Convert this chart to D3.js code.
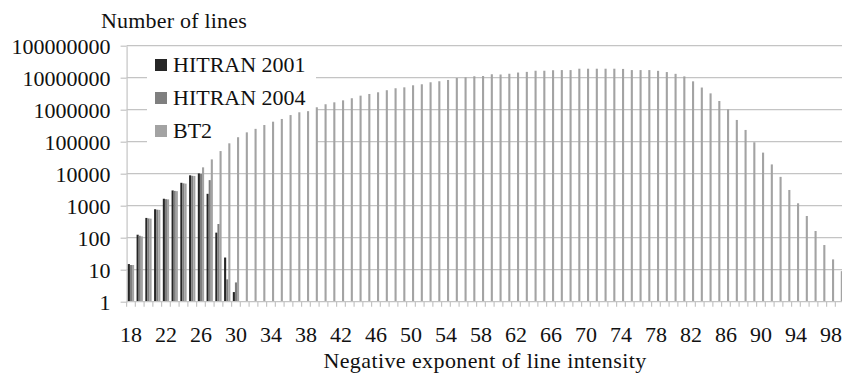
<!DOCTYPE html>
<html>
<head>
<meta charset="utf-8">
<script src="https://cdn.jsdelivr.net/npm/d3@7"></script>
<style>
  html, body { margin: 0; padding: 0; background: #fff; }
  svg text { font-family: "Liberation Serif", "Times New Roman", "DejaVu Serif", serif; }
</style>
</head>
<body>
<svg id="chart" width="842" height="376"></svg>
<script>
// Negative exponent of line intensity (categories)
const exponents = [18,19,20,21,22,23,24,25,26,27,28,29,30,31,32,33,34,35,36,37,38,39,40,41,42,43,44,45,46,47,48,49,50,51,52,53,54,55,56,57,58,59,60,61,62,63,64,65,66,67,68,69,70,71,72,73,74,75,76,77,78,79,80,81,82,83,84,85,86,87,88,89,90,91,92,93,94,95,96,97,98,99];

// Number of lines per intensity decade
const hitran2001 = [15,124,415,775,1650,3000,5200,8900,10200,2350,144,24,2];
const hitran2004 = [14,115,400,750,1600,2900,5000,8600,9800,6300,268,5,4];
const bt2 = [14,110,395,740,1580,2850,4900,8500,15800,28000,51000,89000,138000,196000,252000,332000,422000,513000,680000,830000,900000,1190000,1480000,1700000,1960000,2280000,2750000,3100000,3500000,4060000,4680000,5000000,5790000,6230000,7200000,7750000,8500000,9800000,10300000,11100000,11300000,12800000,12600000,13300000,14500000,15200000,16500000,16500000,17100000,17300000,17300000,19100000,19100000,19100000,19100000,19100000,18800000,17300000,17300000,17300000,16400000,15000000,13200000,11000000,7700000,4930000,3240000,1870000,1030000,478000,233000,96000,45600,19500,7970,3100,1190,477,162,59,21,9];

const seriesNames = ["HITRAN 2001", "HITRAN 2004", "BT2"];
const seriesValues = [hitran2001, hitran2004, bt2];
const seriesColors = ["#262626", "#7f7f7f", "#a3a3a3"];

const yTicks = [1,10,100,1000,10000,100000,1000000,10000000,100000000];
const xTickLabels = [18,22,26,30,34,38,42,46,50,54,58,62,66,70,74,78,82,86,90,94,98];

const serif = "'Liberation Serif', 'Times New Roman', 'DejaVu Serif', serif";
const svg = d3.select("#chart").attr("font-family", serif);
const plotLeft = 126.6, step = 8.75, plotTop = 45.7, plotBottom = 301.7;
const plotRight = plotLeft + exponents.length * step;

const x = d3.scaleBand().domain(exponents).range([plotLeft, plotRight])
  .paddingInner(0.28).paddingOuter(0.14);
const xs = d3.scaleBand().domain(seriesNames).range([0, x.bandwidth()]);
const y = d3.scaleLog().domain([1, 1e8]).range([plotBottom, plotTop]);

const gridColor = "#c4c4c4";

// horizontal gridlines
svg.append("g").selectAll("line").data(yTicks.slice(1)).join("line")
  .attr("x1", plotLeft).attr("x2", 842)
  .attr("y1", d => y(d)).attr("y2", d => y(d))
  .attr("stroke", gridColor).attr("stroke-width", 1.2);

// legend backdrop hides the gridlines behind the key
svg.append("rect").attr("x", 147).attr("y", 52).attr("width", 169).attr("height", 95)
  .attr("fill", "#fff");

// y axis
const yAxis = svg.append("g").attr("transform", `translate(${plotLeft},0)`)
  .call(d3.axisLeft(y).tickValues(yTicks).tickFormat(d3.format("d")).tickSize(6).tickPadding(10).tickSizeOuter(0));
yAxis.attr("font-family", serif).attr("font-size", 22);
yAxis.selectAll("path, line").attr("stroke", gridColor).attr("stroke-width", 1.2);
yAxis.selectAll("text").attr("fill", "#111").attr("dy", "0.34em");

// bars
seriesNames.forEach((name, si) => {
  const rows = exponents.map((e, i) => ({ e, v: seriesValues[si][i] }))
    .filter(r => r.v != null);
  svg.append("g").selectAll("rect").data(rows).join("rect")
    .attr("x", r => x(r.e) + xs(name))
    .attr("width", xs.bandwidth())
    .attr("y", r => y(r.v))
    .attr("height", r => y(1) - y(r.v))
    .attr("fill", seriesColors[si]);
});

// x axis line and category boundary ticks
svg.append("line").attr("x1", plotLeft).attr("x2", 842)
  .attr("y1", plotBottom).attr("y2", plotBottom)
  .attr("stroke", gridColor).attr("stroke-width", 1.2);
svg.append("g").selectAll("line").data(exponents).join("line")
  .attr("x1", d => x(d) - x.step() * x.paddingInner() / 2)
  .attr("x2", d => x(d) - x.step() * x.paddingInner() / 2)
  .attr("y1", plotBottom).attr("y2", plotBottom + 5)
  .attr("stroke", gridColor).attr("stroke-width", 1.2);

// x tick labels
svg.append("g").selectAll("text").data(xTickLabels).join("text")
  .attr("x", d => x(d) + x.bandwidth() / 2)
  .attr("y", 342)
  .attr("text-anchor", "middle")
  .attr("font-size", 22).attr("fill", "#111")
  .text(d => d);

// axis titles
svg.append("text").attr("x", 101).attr("y", 28).attr("font-size", 22).attr("fill", "#111")
  .attr("letter-spacing", 0.2)
  .text("Number of lines");
svg.append("text").attr("x", 485).attr("y", 368).attr("text-anchor", "middle")
  .attr("font-size", 22).attr("fill", "#111").attr("letter-spacing", 0.4)
  .text("Negative exponent of line intensity");

// legend
const legendY = [65, 98, 131];
const lg = svg.append("g");
seriesNames.forEach((name, i) => {
  lg.append("rect").attr("x", 155).attr("y", legendY[i] - 6).attr("width", 12).attr("height", 12)
    .attr("fill", seriesColors[i]);
  lg.append("text").attr("x", 173).attr("y", legendY[i]).attr("dy", "0.34em")
    .attr("font-size", 22).attr("fill", "#111").text(name);
});
</script>
</body>
</html>
